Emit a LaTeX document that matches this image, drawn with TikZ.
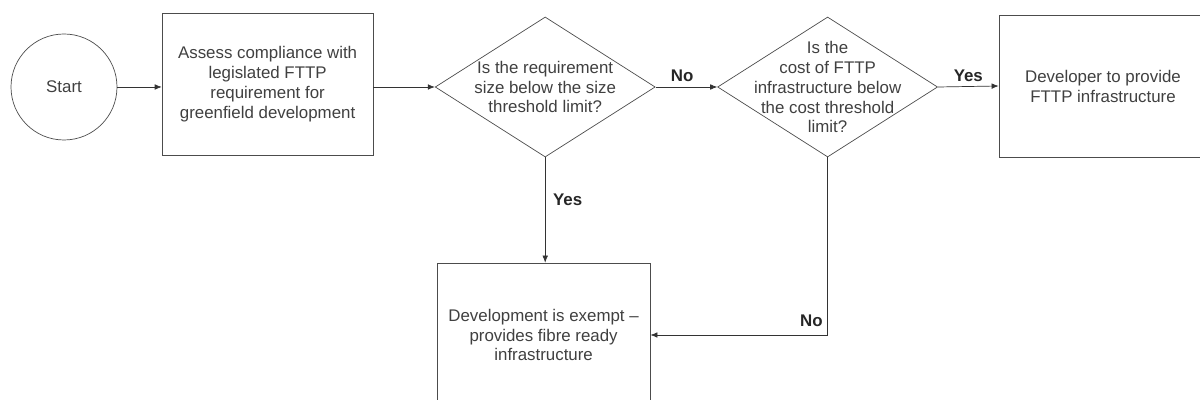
\documentclass[tikz,border=0pt]{standalone}
\usepackage{fontspec}
\setmainfont{Liberation Sans}
\usetikzlibrary{shapes.geometric,arrows.meta,positioning}
\tikzset{
	stepbox/.style={draw=black!70, line width=0.5pt, minimum width=5.3cm, minimum height=3.55cm, align=center, text=black!75},
	decision/.style={diamond, draw=black!70, line width=0.5pt, minimum width=5.5cm, minimum height=3.5cm, inner sep=0pt},
	qtext/.style={align=center, text=black!75},
	flow/.style={draw=black!80, line width=0.5pt, -{Latex[length=5pt,width=4pt]}},
	answer/.style={font=\fontsize{12}{14}\selectfont\bfseries, text=black!85},
}
\begin{document}
\begin{tikzpicture}[font=\fontsize{12}{14.2}\selectfont]
				\useasboundingbox (0,0) rectangle (30,-10);
				\node[circle,draw=black!70,line width=0.5pt,minimum size=2.65cm,text=black!75] (start) at (1.6,-2.175) {Start};
				\node[stepbox,minimum width=5.275cm] (assess) at (6.69,-2.1) {Assess compliance with\\legislated FTTP\\requirement for\\greenfield development};
				\node[decision] (size) at (13.63,-2.175) {};
				\node[qtext] at (size) {Is the requirement\\size below the size\\threshold limit?};
				\node[decision] (cost) at (20.69,-2.175) {};
				\node[qtext] at (cost) {Is the\\cost of FTTP\\infrastructure below\\the cost threshold\\limit?};
				\node[stepbox,minimum width=5.2cm] (provide) at (27.575,-2.15) {Developer to provide\\FTTP infrastructure};
				\node[stepbox,minimum width=5.325cm,minimum height=3.6cm] (exempt) at (13.59,-8.375) {Development is exempt --\\provides fibre ready\\infrastructure};
				% connectors
				\draw[flow] (start) -- (start -| assess.west);
				\draw[flow] (assess.east |- size) -- (size.west);
				\draw[flow] (size.east) -- node[answer,above,xshift=-3pt]{No} (cost.west);
				\draw[flow] (cost.east) -- node[answer,above]{Yes} (provide.west);
				\draw[flow] (size.south) -- node[answer,pos=0.4,right,xshift=2pt]{Yes} (size.south |- exempt.north);
				\draw[flow] (cost.south) |- node[answer,pos=0.46,left]{No} (exempt.east);
			\end{tikzpicture}
\end{document}
